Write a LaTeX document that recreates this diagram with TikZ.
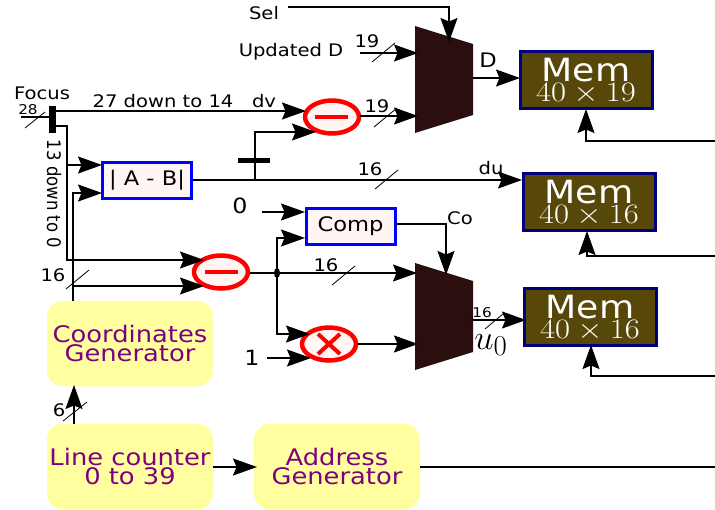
\documentclass[tikz,border=0pt]{standalone}
\usepackage{graphicx}
\usepackage{fontspec}
\newfontfamily\dv[FakeStretch=1.13]{DejaVu Sans}
\newfontfamily\dvp{DejaVu Sans}
\usetikzlibrary{arrows.meta,shapes.geometric,calc}
\definecolor{genfill}{HTML}{FFFF9F}
\definecolor{genink}{HTML}{7F007F}
\definecolor{memfill}{HTML}{574709}
\definecolor{memline}{HTML}{00007F}
\definecolor{muxfill}{HTML}{2B0F0F}
\definecolor{opfill}{HTML}{FFF5F3}
\tikzset{
  x=1pt,y=-1pt,
  wire/.style={line width=1.5pt,line join=miter},
  arr/.style={wire,-{Stealth[length=24pt,width=17pt,inset=3.5pt]}},
  slashmark/.style={line width=0.8pt},
  lab/.style={font=\dv\fontsize{17.3}{17.3}\selectfont,inner sep=0pt,text=black},
  smalllab/.style={font=\dv\fontsize{13.5}{13.5}\selectfont,inner sep=0pt,text=black},
  gen/.style={draw=none,fill=genfill,rounded corners=16pt,minimum width=166pt,minimum height=85.5pt,inner sep=0pt,
    align=center,text=genink,font=\dv\fontsize{22.8}{19}\selectfont},
  mem/.style={draw=memline,line width=3pt,fill=memfill,minimum width=132pt,minimum height=57pt,inner sep=0pt},
  memtext/.style={text=white,inner sep=0pt},
  opbox/.style={draw=blue,line width=3pt,fill=opfill,minimum width=89pt,minimum height=36pt,inner sep=0pt,
    font=\dv\fontsize{20}{20}\selectfont},
  opell/.style={ellipse,draw=red,line width=4.5pt,fill=opfill,minimum width=54pt,minimum height=33pt,inner sep=0pt},
  mux/.style={fill=muxfill,draw=none},
  opmark/.style={draw=red,line width=4pt},
  bar/.style={fill=black,draw=none,inner sep=0pt},
}
\newcommand{\memlabel}[3]{%
  \node[memtext,font=\dv\fontsize{32}{32}\selectfont] (#1title) at ($(#1)+(0,-9.5)$) {Mem};
  \node[memtext] (#1size) at ($(#1)+(0,14)$) {\fontsize{24.88}{24.88}\selectfont\scalebox{1.31}[1.13]{$#2\times #3$}};
}
\begin{document}
\begin{tikzpicture}
\useasboundingbox (0,0) rectangle (715,509);
\fill[white] (0,0) rectangle (715,509);

% muxes
\fill[mux] (415,26) -- (473,44) -- (473,115) -- (415,133) -- cycle;
\fill[mux] (415,263) -- (473,281) -- (473,352) -- (415,370) -- cycle;
\coordinate (muxAsel) at (449,42);
\coordinate (muxAin) at (418,53);
\coordinate (muxAinb) at (418,116);
\coordinate (muxAout) at (473,78);
\coordinate (muxBsel) at (446,275);
\coordinate (muxBin) at (417,273);
\coordinate (muxBinb) at (418,344);
\coordinate (muxBout) at (471,320);

% boxes
\node[gen] (cg) at (130,343.5) {Coordinates\\Generator};
\node[gen] (lc) at (130,466.5) {Line counter\\0 to 39};
\node[gen] (ag) at (337,466.5) {Address\\Generator};
\node[mem] (m1) at (586,79.5) {};
\node[mem] (m2) at (589,201.5) {};
\node[mem] (m3) at (590,317) {};
\memlabel{m1}{40}{19}
\memlabel{m2}{40}{16}
\memlabel{m3}{40}{16}
\node[opbox] (abs) at (147,180) {| A - B|};
\node[opbox] (cmp) at (350.5,226.5) {Comp};
\node[opell] (s1) at (332,117) {};
\node[opell] (s2) at (221,272) {};
\node[opell] (mul) at (329,344) {};
\draw[opmark] (315,117) -- (348,117);
\draw[opmark] (205,272) -- (238,272);
\draw[opmark] (318,334) -- (340,354);
\draw[opmark] (318,354) -- (340,334);

% bars and junction
\node[bar,minimum width=7pt,minimum height=27pt] (fb) at (52.5,119.5) {};
\node[bar,minimum width=32pt,minimum height=5pt] (tb) at (254,160) {};
\node[ellipse,fill=black,draw=none,minimum width=6pt,minimum height=10pt,inner sep=0pt] (jn) at (277,273) {};

% free ends and taps
\coordinate (foc) at (21,117);
\coordinate (sel) at (288,7);
\coordinate (upd) at (360,53);
\coordinate (zero) at (262,212);
\coordinate (one) at (267,358);
\coordinate (rm1) at (715,141);
\coordinate (rm2) at (715,256);
\coordinate (rm3) at (715,376);
\coordinate (rag) at (715,467);
\coordinate (cgtap) at (73,301);
\coordinate (s1out) at (360,116);
\coordinate (s2out) at (250,273);
\coordinate (cmpout) at (396,224);
\coordinate (fbout) at (56,126);
\coordinate (fbtop) at (56,111);
\coordinate (lcup) at (74,424);
\coordinate (lcout) at (213,467);
\coordinate (agout) at (420,467);

% connectors
\draw[wire] (foc) -- (49,117);
\draw[arr] (fbtop) -- (306,111);
\draw[arr] (fbout) -- (67,126) -- (67,165) -- (102,165);
\draw[arr] (67,165) -- (67,260) -- (204,260);
\draw[arr] (cgtap) -- (73,193) -- (102,193);
\draw[arr] (73,286) -- (204,286);
\draw[arr] (abs.east) -- (522,180);
\draw[arr] (tb.center |- abs.east) ++(1,0) -- (255,132) -- (316,132);
\draw[arr] (s1out) -- (muxAinb);
\draw[arr] (upd) -- (muxAin);
\draw[arr] (sel) -- (449,7) -- (muxAsel);
\draw[arr] (muxAout) -- (520,78);
\draw[arr] (zero) -- (305,212);
\draw[arr] (jn.center) -- (277,238) -- (305,238);
\draw[arr] (cmpout) -- (446,224) -- (muxBsel);
\draw[arr] (s2out) -- (muxBin);
\draw[arr] (jn.center) -- (277,334) -- (310,334);
\draw[arr] (one) -- (311,358);
\draw[arr] (mul.east) -- (muxBinb);
\draw[arr] (muxBout) -- (526,320);
\draw[arr] (lcup) -- (74,385);
\draw[arr] (lcout) -- (257,467);
\draw[wire] (agout) -- (rag);
\draw[arr] (rm1) -- (586,141) -- (586,109);
\draw[arr] (rm2) -- (587,256) -- (587,231);
\draw[arr] (rm3) -- (591,376) -- (591,345);

% bus slashes
\draw[slashmark] (25,128) -- (45,112);
\draw[slashmark] (372,62) -- (395,43);
\draw[slashmark] (374,127) -- (397,108);
\draw[slashmark] (375,189) -- (398,170);
\draw[slashmark] (332,285) -- (355,266);
\draw[slashmark] (66,289) -- (89,270);
\draw[slashmark] (63,421) -- (87,402);
\draw[slashmark] (485,329) -- (503,314);

% labels
\node[lab] (tsel) at (264,13) {Sel};
\node[lab] (tupd) at (291,52) {Updated D};
\node[lab] (tfoc) at (42,93) {Focus};
\node[smalllab] (t28) at (28,110) {28};
\node[lab] (t27) at (163,101) {27 down to 14};
\node[lab] (tdv) at (264,101) {dv};
\node[inner sep=0pt,rotate=-90] (t13) at (54,194) {\scalebox{1}[1.13]{\dvp\fontsize{16.5}{16.5}\selectfont 13 down to 0}};
\node[lab] (t19a) at (367,41) {19};
\node[lab] (t19b) at (377,106) {19};
\node[lab] (t16a) at (370,169) {16};
\node[lab] (tdu) at (491,168) {du};
\node[lab,font=\dv\fontsize{20}{20}\selectfont] (tD) at (488,60) {D};
\node[lab,font=\dv\fontsize{21}{21}\selectfont] (t0) at (240,206) {0};
\node[lab,font=\dv\fontsize{21}{21}\selectfont] (t1) at (252,358) {1};
\node[lab] (tCo) at (460,218) {Co};
\node[lab] (t16b) at (326,265) {16};
\node[lab] (t16c) at (53,275) {16};
\node[lab] (t6) at (59,410) {6};
\node[smalllab] (t16d) at (482,313) {16};
\node[inner sep=0pt] (tu) at (491,345) {\fontsize{24.88}{24.88}\selectfont\scalebox{1.39}{$u_0$}};
\end{tikzpicture}
\end{document}
